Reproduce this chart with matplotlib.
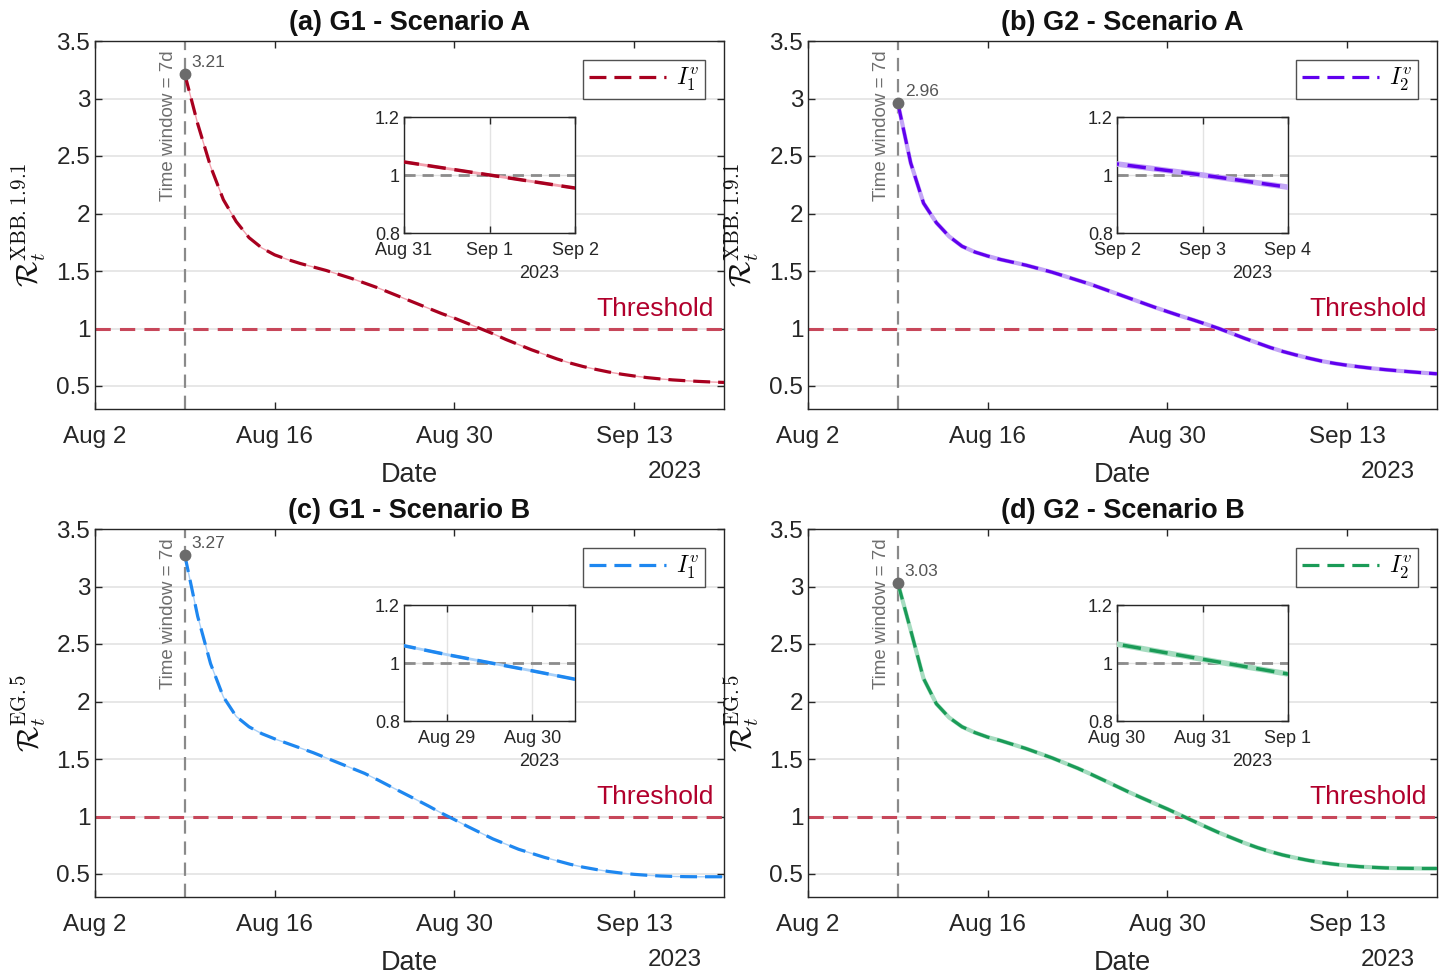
import numpy as np
import matplotlib
matplotlib.use("Agg")
import matplotlib.pyplot as plt
import matplotlib.dates as mdates
import matplotlib.transforms as mtransforms

plt.rcParams['font.family'] = ['Liberation Sans', 'DejaVu Sans']
plt.rcParams['mathtext.fontset'] = 'cm'

# daily estimates of the reproduction number, Aug 9 -> Sep 20, 2023
dates = np.arange('2023-08-09', '2023-09-21', dtype='datetime64[D]')

rt_g1_a = [3.21, 2.78, 2.41, 2.12, 1.93, 1.79, 1.70, 1.64, 1.60, 1.565,
           1.535, 1.505, 1.47, 1.435, 1.395, 1.355, 1.31, 1.265, 1.22, 1.175,
           1.13, 1.09, 1.045, 1.0, 0.955, 0.905, 0.86, 0.815, 0.775, 0.735,
           0.70, 0.67, 0.645, 0.622, 0.603, 0.587, 0.573, 0.562, 0.553, 0.546,
           0.54, 0.535, 0.531]
rt_g2_a = [2.96, 2.44, 2.09, 1.92, 1.80, 1.715, 1.665, 1.63, 1.60, 1.575,
           1.55, 1.52, 1.49, 1.455, 1.42, 1.385, 1.345, 1.305, 1.265, 1.225,
           1.185, 1.147, 1.11, 1.075, 1.038, 1.0, 0.958, 0.915, 0.875, 0.835,
           0.80, 0.77, 0.742, 0.717, 0.697, 0.68, 0.666, 0.653, 0.642, 0.632,
           0.623, 0.614, 0.606]
rt_g1_b = [3.27, 2.74, 2.33, 2.04, 1.87, 1.78, 1.72, 1.675, 1.635, 1.595,
           1.555, 1.51, 1.465, 1.42, 1.375, 1.32, 1.262, 1.205, 1.148, 1.09,
           1.029, 0.973, 0.915, 0.86, 0.805, 0.76, 0.715, 0.68, 0.645, 0.615,
           0.585, 0.56, 0.54, 0.522, 0.508, 0.497, 0.489, 0.483, 0.479, 0.477,
           0.476, 0.476, 0.476]
rt_g2_b = [3.03, 2.62, 2.20, 1.98, 1.86, 1.78, 1.73, 1.69, 1.66, 1.625,
           1.59, 1.55, 1.51, 1.465, 1.42, 1.37, 1.318, 1.265, 1.212, 1.162,
           1.113, 1.065, 1.013, 0.962, 0.91, 0.86, 0.815, 0.77, 0.73, 0.695,
           0.665, 0.64, 0.618, 0.60, 0.585, 0.573, 0.564, 0.558, 0.553, 0.55,
           0.549, 0.548, 0.548]

titles = ['(a) G1 - Scenario A', '(b) G2 - Scenario A',
          '(c) G1 - Scenario B', '(d) G2 - Scenario B']
ylabels = [r'$\mathcal{R}_t^{\mathrm{XBB.1.9.1}}$', r'$\mathcal{R}_t^{\mathrm{XBB.1.9.1}}$',
           r'$\mathcal{R}_t^{\mathrm{EG.5}}$', r'$\mathcal{R}_t^{\mathrm{EG.5}}$']
legend_labels = [r'$I_1^v$', r'$I_2^v$', r'$I_1^v$', r'$I_2^v$']
series = [rt_g1_a, rt_g2_a, rt_g1_b, rt_g2_b]
dark_colors = ['#A8001F', '#6000EE', '#1E87F0', '#1A9B57']
light_colors = ['#F2A1AE', '#C3A6F6', '#A9D0F8', '#A6DCC0']
light_widths = [1.0, 3.0, 1.0, 3.0]

# zoom window for each inset (start, end)
inset_ranges = [('2023-08-31', '2023-09-02'), ('2023-09-02', '2023-09-04'),
                ('2023-08-28 12:00', '2023-08-30 12:00'), ('2023-08-30', '2023-09-01')]
inset_ticks = [['2023-08-31', '2023-09-01', '2023-09-02'],
               ['2023-09-02', '2023-09-03', '2023-09-04'],
               ['2023-08-29', '2023-08-30'],
               ['2023-08-30', '2023-08-31', '2023-09-01']]

main_ticks = ['2023-08-02', '2023-08-16', '2023-08-30', '2023-09-13']
x_start, x_end = '2023-08-02', '2023-09-20'

window_days = 7
threshold = 1.0

axis_color = '#262626'
grid_color = '#E3E3E3'
dash = (0, (5.3, 2.5))

fig = plt.figure(figsize=(14.44, 9.74), dpi=100)
W, H = 1444, 974
panel_boxes = [(95, 41), (808, 41), (95, 529), (808, 529)]
pw, ph = 629, 368


def style_axes(ax, fs):
    for s in ax.spines.values():
        s.set_color(axis_color)
        s.set_linewidth(1.0)
    ax.tick_params(direction='in', top=True, right=True, colors=axis_color,
                   labelcolor=axis_color, labelsize=fs, length=5, width=1.0)


for i in range(4):
    x0, y0 = panel_boxes[i]
    ax = fig.add_axes([x0 / W, 1 - (y0 + ph) / H, pw / W, ph / H])
    style_axes(ax, 17.5)
    ax.tick_params(pad=12, axis='x')
    ax.set_axisbelow(True)
    ax.yaxis.grid(True, color=grid_color, linewidth=1.2)

    t = dates.astype('datetime64[s]').astype(object)
    vals = np.array(series[i])

    ax.axhline(threshold, color='#C7475A', linestyle=(0, (5, 3)), linewidth=2.2, zorder=2)
    ax.axvline(np.datetime64(x_start) + np.timedelta64(window_days, 'D'),
               color='#8A8A8A', linestyle=(0, (6, 3.5)), linewidth=1.6, zorder=2)

    ax.plot(t, vals, color=light_colors[i], linewidth=light_widths[i], zorder=3)
    ax.plot(t, vals, color=dark_colors[i], linewidth=2.3,
            linestyle=dash, label=legend_labels[i], zorder=4)
    ax.plot(t[0], vals[0], 'o', color='#6B6B6B', markersize=7.5, zorder=5)
    ax.annotate(f'{vals[0]:.2f}', (t[0], vals[0]), xytext=(5, 3),
                textcoords='offset points', fontsize=12.5, color='#555555',
                ha='left', va='bottom')
    ax.annotate('Time window = 7d', (t[0], 3.5), xytext=(-6, -7),
                textcoords='offset points', rotation=90, fontsize=13.5,
                color='#6E6E6E', ha='right', va='top')

    trans = mtransforms.blended_transform_factory(ax.transAxes, ax.transData)
    ax.text(0.983, 1.065, 'Threshold', transform=trans, ha='right', va='bottom',
            fontsize=19, color='#B1002C')

    ax.set_xlim(np.datetime64(x_start), np.datetime64(x_end))
    ax.set_ylim(0.3, 3.5)
    ax.set_yticks([0.5, 1, 1.5, 2, 2.5, 3, 3.5])
    ax.set_yticklabels(['0.5', '1', '1.5', '2', '2.5', '3', '3.5'])
    ax.set_xticks([np.datetime64(d) for d in main_ticks])
    ax.xaxis.set_major_formatter(mdates.DateFormatter('%b %-d'))
    ax.set_title(titles[i], fontsize=19.5, fontweight='bold', color='#111111', pad=8)
    ax.set_xlabel('Date', fontsize=19.5, color=axis_color, labelpad=10)
    ax.set_ylabel(ylabels[i], fontsize=21.5, color='#111111')
    ax.yaxis.set_label_coords(-0.074, 0.5)
    ax.text(0.922, -0.17, '2023', transform=ax.transAxes, ha='center', va='center',
            fontsize=17.5, color=axis_color)

    leg = ax.legend(loc='upper right', fontsize=17, frameon=True, fancybox=False,
                    handlelength=3.26, borderaxespad=0.8, borderpad=0.25,
                    handletextpad=0.45)
    leg.get_frame().set_edgecolor(axis_color)
    leg.get_frame().set_linewidth(1.0)

    # zoomed inset around the threshold crossing
    ins = fig.add_axes([(x0 + 309) / W, 1 - (y0 + 192) / H, 171 / W, 116 / H])
    style_axes(ins, 13)
    ins.tick_params(pad=3)
    ins.tick_params(axis='x', pad=6.5)
    ins.grid(True, color=grid_color, linewidth=1.0)
    ins.set_axisbelow(True)
    ins.axhline(threshold, color='#8C8C8C', linestyle=(0, (4, 2.5)), linewidth=2.0, zorder=2)
    ins.plot(t, vals, color=light_colors[i], linewidth=light_widths[i] + 1.0, zorder=3)
    ins.plot(t, vals, color=dark_colors[i], linewidth=2.5, linestyle=dash, zorder=4)
    a, b = inset_ranges[i]
    ins.set_xlim(np.datetime64(a), np.datetime64(b))
    ins.set_ylim(0.8, 1.2)
    ins.set_yticks([0.8, 1, 1.2])
    ins.set_yticklabels(['0.8', '1', '1.2'])
    ins.set_xticks([np.datetime64(d) for d in inset_ticks[i]])
    ins.xaxis.set_major_formatter(mdates.DateFormatter('%b %-d'))
    ins.text(0.79, -0.345, '2023', transform=ins.transAxes, ha='center', va='center',
             fontsize=13, color=axis_color)

fig.savefig('out.png', dpi=100)
